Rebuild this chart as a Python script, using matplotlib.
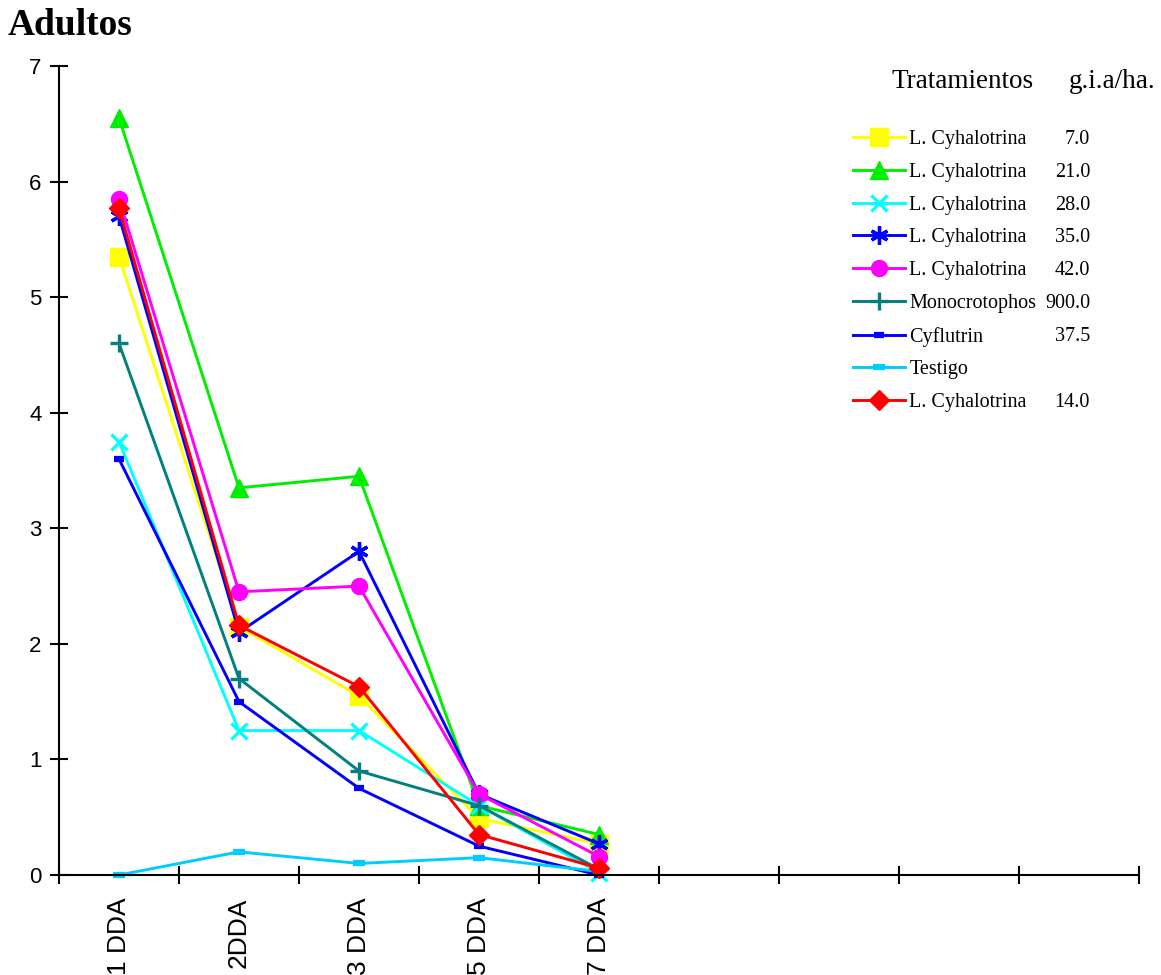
import matplotlib
matplotlib.use("Agg")
import matplotlib.pyplot as plt

categories = ["1 DDA", "2DDA", "3 DDA", "5 DDA", "7 DDA"]
n_slots = 9

names = ["L. Cyhalotrina", "L. Cyhalotrina", "L. Cyhalotrina", "L. Cyhalotrina",
         "L. Cyhalotrina", "Monocrotophos", "Cyflutrin", "Testigo", "L. Cyhalotrina"]
doses = ["7.0", "21.0", "28.0", "35.0", "42.0", "900.0", "37.5", "", "14.0"]

lc_7 = [5.35, 2.15, 1.55, 0.49, 0.27]
lc_21 = [6.55, 3.35, 3.45, 0.60, 0.35]
lc_28 = [3.75, 1.25, 1.25, 0.60, 0.02]
lc_35 = [5.70, 2.10, 2.80, 0.70, 0.27]
lc_42 = [5.85, 2.45, 2.50, 0.70, 0.16]
monocro = [4.60, 1.70, 0.90, 0.60, 0.05]
cyflutrin = [3.60, 1.50, 0.75, 0.25, 0.00]
testigo = [0.00, 0.20, 0.10, 0.15, 0.03]
lc_14 = [5.77, 2.16, 1.63, 0.35, 0.06]

series = [lc_7, lc_21, lc_28, lc_35, lc_42, monocro, cyflutrin, testigo, lc_14]
colors = ["#FFFF00", "#00EE00", "#00FFFF", "#0000FF", "#FF00FF", "#008080",
          "#0000FF", "#00CCFF", "#FF0000"]
markers = ["s", "^", "x", (6, 2, 0), "o", "+", "_", "_", "D"]
msizes = [12.5, 12.5, 12, 13, 11.5, 13, 7, 8, 10]
mews = [1, 1, 2.4, 2.4, 1, 2.4, 4.5, 4.5, 1]

fig = plt.figure(figsize=(11.61, 9.75), dpi=100)
ax = fig.add_axes([59 / 1161, 100 / 975, (1139 - 59) / 1161, (875 - 66) / 975])

xs = [i + 0.5 for i in range(len(categories))]
handles = []
for vals, c, m, ms, mew in zip(series, colors, markers, msizes, mews):
    h, = ax.plot(xs, vals, color=c, lw=2.1, marker=m, ms=ms, mew=mew,
                 mfc=c, mec=c, clip_on=False)
    handles.append(h)

ax.set_xlim(0, n_slots)
ax.set_ylim(0, 7)
ax.set_yticks(range(0, 8))
ax.set_xticks(range(0, n_slots + 1))
ax.set_xticklabels([])
ax.set_xticks(xs, minor=True)
ax.set_xticklabels(categories, minor=True, rotation=90, fontsize=19,
                   family="Liberation Sans")
ax.tick_params(axis="x", which="minor", length=0, pad=16)
ax.tick_params(axis="both", which="major", direction="inout", length=13,
               width=1.5, labelsize=16)
for lab in ax.get_yticklabels():
    lab.set_family("Liberation Sans")
ax.tick_params(axis="y", pad=6)
for s in ["top", "right"]:
    ax.spines[s].set_visible(False)
for s in ["left", "bottom"]:
    ax.spines[s].set_linewidth(1.5)

fig.text(8 / 1161, 1 - 35 / 975, "Adultos", fontsize=27, fontweight="bold",
         family="Liberation Serif", va="baseline")

fig.text(891 / 1161, 1 - 81 / 975, "Tratamientos", fontsize=19.5,
         family="Liberation Serif", va="center")
fig.text(1156 / 1161, 1 - 81 / 975, "g.i.a/ha.", fontsize=19.5,
         family="Liberation Serif", va="center", ha="right")

leg = fig.legend(handles, names, loc="upper left",
                 bbox_to_anchor=(853 / 1161, 1 - 130 / 975),
                 frameon=False, handlelength=2.6, handletextpad=0.2,
                 labelspacing=0.68, borderpad=0, borderaxespad=0,
                 prop={"family": "Liberation Serif", "size": 14.5})

fig.canvas.draw()
renderer = fig.canvas.get_renderer()
for txt, dose in zip(leg.get_texts(), doses):
    if not dose:
        continue
    bb = txt.get_window_extent(renderer)
    yc = (bb.y0 + bb.y1) / 2
    fig.text(1090 / 1161, yc / fig.bbox.height, dose, ha="right", va="center",
             fontsize=14.5, family="Liberation Serif")

fig.savefig("out.png", dpi=100)
